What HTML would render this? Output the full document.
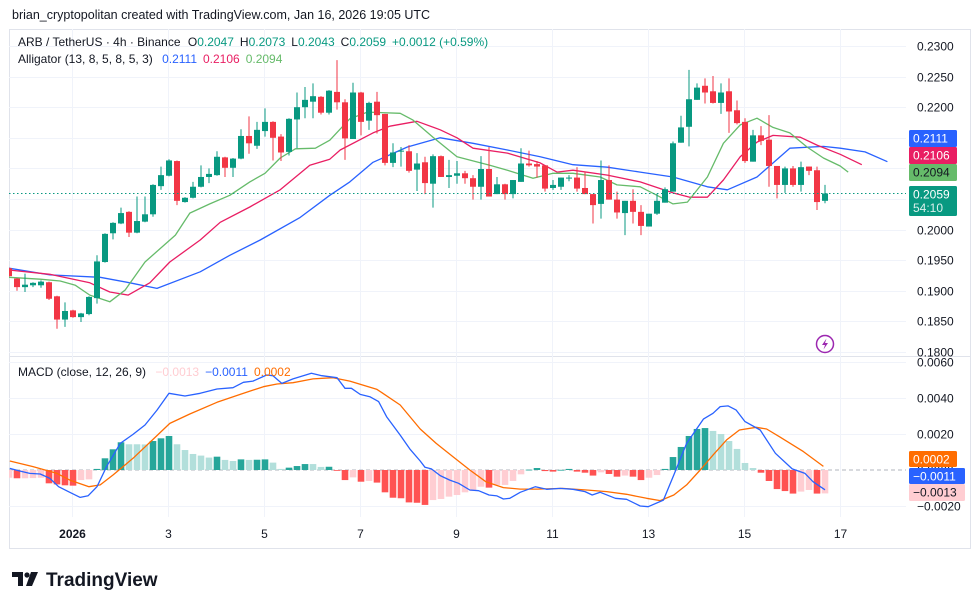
<!DOCTYPE html>
<html><head><meta charset="utf-8"><style>
html,body{margin:0;padding:0;background:#fff;width:980px;height:609px;overflow:hidden}
svg{display:block;font-family:"Liberation Sans",sans-serif}
</style></head><body>
<svg id="chart" width="980" height="609" viewBox="0 0 980 609" xmlns="http://www.w3.org/2000/svg">
<defs>
<clipPath id="pclip"><rect x="9" y="29" width="897" height="327"/></clipPath>
<clipPath id="mclip"><rect x="9" y="357" width="897" height="160"/></clipPath>
</defs>
<text x="12" y="19" font-size="12.5" fill="#131722">brian_cryptopolitan created with TradingView.com, Jan 16, 2026 19:05 UTC</text>
<rect x="9.5" y="29.5" width="961" height="519" fill="none" stroke="#e0e3eb"/>
<line x1="9" y1="356.5" x2="970" y2="356.5" stroke="#e0e3eb"/>
<g id="grid"></g>
<g id="macdpane" clip-path="url(#mclip)"></g>
<g id="pricepane" clip-path="url(#pclip)"></g>
<g id="axes"></g>
<g font-size="12">
<text x="18" y="46" fill="#131722">ARB / TetherUS · 4h · Binance <tspan dx="4">O</tspan><tspan fill="#089981">0.2047</tspan><tspan dx="6">H</tspan><tspan fill="#089981">0.2073</tspan><tspan dx="6">L</tspan><tspan fill="#089981">0.2043</tspan><tspan dx="6">C</tspan><tspan fill="#089981">0.2059</tspan><tspan dx="6" fill="#089981">+0.0012 (+0.59%)</tspan></text>
<text x="18" y="63" fill="#131722">Alligator (13, 8, 5, 8, 5, 3) <tspan dx="6" fill="#2962ff">0.2111</tspan><tspan dx="6" fill="#e91e63">0.2106</tspan><tspan dx="6" fill="#66bb6a">0.2094</tspan></text>
<text x="18" y="376" fill="#131722">MACD (close, 12, 26, 9) <tspan dx="6" fill="#ffcdd2">−0.0013</tspan><tspan dx="6" fill="#2962ff">−0.0011</tspan><tspan dx="6" fill="#ff6d00">0.0002</tspan></text>
</g>
<g>
<circle cx="825" cy="344" r="8.5" fill="#fff" stroke="#9c27b0" stroke-width="1.5"/>
<path d="M826.5 338.5 L822 345 L825 345 L823.5 349.5 L828 343 L825 343 Z" fill="#9c27b0"/>
</g>
<g>
<path d="M12 572 h11 v14 h-5 v-9 h-6 Z" fill="#131722"/>
<circle cx="27" cy="575" r="2.6" fill="#131722"/>
<path d="M31 572 h7 l-6 14 h-6 Z" fill="#131722"/>
<text x="46" y="586" font-size="19" font-weight="bold" fill="#131722">TradingView</text>
</g>
</svg>
<script>
const opens=[1937,1920,1906,1909,1909,1914,1891,1853,1868,1857,1862,1888,1947,1994,2010,2029,1995,2013,2025,2071,2088,2112,2045,2052,2070,2086,2089,2118,2101,2116,2153,2137,2161,2176,2152,2127,2180,2200,2209,2217,2191,2225,2208,2148,2224,2178,2209,2189,2109,2128,2128,2098,2110,2075,2120,2086,2088,2092,2084,2070,2099,2058,2074,2058,2078,2108,2107,2105,2068,2070,2084,2085,2068,2058,2042,2081,2049,2027,2047,2029,2005,2026,2044,2062,2142,2168,2212,2235,2226,2207,2226,2195,2176,2111,2154,2147,2104,2073,2100,2073,2103,2097,2047];
const highs=[1938,1921,1928,1914,1917,1915,1892,1881,1869,1864,1891,1958,1994,2012,2036,2030,2054,2054,2074,2103,2115,2113,2053,2078,2105,2100,2128,2119,2117,2164,2185,2176,2198,2177,2156,2182,2224,2233,2239,2218,2228,2277,2213,2240,2225,2209,2225,2189,2141,2135,2138,2125,2119,2123,2121,2114,2112,2096,2089,2120,2135,2086,2075,2081,2133,2129,2112,2105,2081,2085,2089,2102,2095,2058,2113,2105,2062,2047,2066,2040,2026,2059,2069,2144,2186,2261,2239,2247,2251,2239,2247,2211,2182,2163,2169,2187,2104,2103,2104,2111,2103,2103,2073];
const lows=[1923,1900,1898,1906,1905,1885,1838,1841,1856,1849,1860,1879,1946,1984,2009,1988,1994,2012,2021,2065,2087,2040,2044,2051,2069,2076,2088,2086,2086,2115,2124,2132,2152,2113,2112,2121,2133,2182,2182,2188,2188,2196,2114,2148,2154,2163,2157,2105,2102,2103,2093,2063,2058,2036,2086,2068,2075,2075,2049,2049,2054,2058,2049,2051,2078,2103,2085,2062,2065,2065,2079,2062,2058,2010,2018,2049,2018,1991,2010,1991,2005,2024,2044,2062,2142,2136,2212,2206,2206,2189,2158,2172,2109,2111,2138,2070,2051,2060,2070,2062,2089,2032,2043];
const closes=[1924,1906,1910,1913,1915,1887,1853,1867,1857,1863,1890,1948,1993,2011,2027,1995,2014,2025,2073,2089,2113,2047,2052,2070,2086,2091,2119,2101,2116,2153,2141,2163,2176,2150,2126,2181,2200,2212,2218,2191,2227,2208,2149,2224,2176,2207,2187,2109,2126,2129,2096,2108,2076,2120,2086,2089,2092,2084,2070,2099,2054,2074,2058,2081,2108,2105,2103,2067,2073,2085,2085,2067,2058,2040,2081,2049,2028,2047,2029,2006,2026,2047,2066,2141,2167,2213,2232,2224,2207,2224,2193,2174,2112,2154,2145,2104,2073,2100,2073,2102,2096,2045,2059];
const jawBars=[0,5.1,11.4,15.1,18.5,23.9,27.6,31.4,36.4,40.1,42.6,45.5,49.8,53.9,58,62.3,66.4,70.5,74.8,78.9,83,87.3,89.8,93.5,97.6,101.8,103.9,107,109.8];
const jawVals=[1937,1926,1922,1913,1904,1931,1958,1983,2020,2056,2078,2110,2135,2150,2141,2130,2119,2106,2102,2094,2086,2070,2065,2086,2133,2136,2133,2127,2111];
const teethBars=[0,5.1,10.1,12.6,14.9,17.6,20.1,23.9,26.4,30.1,33.9,37.6,40.1,41.4,45.5,47.6,51,53.9,56,58,62.3,66.4,68.5,70.5,74.8,78.9,83,85.1,87.3,89.3,91.4,93.5,95.5,98.9,101,103.9,106.6];
const teethVals=[1934,1927,1913,1898,1893,1913,1947,1983,2012,2037,2065,2105,2115,2130,2158,2169,2177,2163,2150,2133,2125,2109,2094,2097,2089,2078,2060,2053,2053,2081,2119,2143,2154,2151,2138,2123,2106];
const lipsBars=[0,3.9,6.4,8.3,10.1,12.6,14.5,17,20.8,22.6,25.1,27.6,30.1,32,33.9,35.8,38.3,40.1,42.6,44.8,48.9,50.5,53,56,60.1,62.3,65.5,68,70.5,73.9,76,78.9,81,83,84.8,87.3,89.3,91.4,93.5,95.5,97.6,99.75,101.8,103.9,104.9];
const lipsVals=[1922,1919,1916,1909,1893,1882,1901,1947,1991,2027,2042,2056,2078,2092,2117,2132,2133,2146,2181,2192,2190,2179,2151,2119,2105,2097,2084,2092,2092,2086,2073,2070,2056,2042,2045,2086,2141,2171,2182,2167,2158,2135,2117,2104,2094];
const histVals=[-4.3,-4.6,-4.6,-4.5,-4.3,-7.4,-8.0,-8.5,-8.7,-5.6,-5.2,0.6,6.5,11.5,15.4,14.3,14.3,14.2,16.1,17.6,18.9,14.3,11.1,8.9,8.0,6.9,7.4,5.6,5.0,5.9,5.6,5.7,5.9,4.1,0.6,1.3,2.2,3.3,3.3,1.7,1.8,-0.2,-5.6,-4.1,-6.5,-6.1,-7.0,-12.4,-15.4,-15.7,-18.0,-18.2,-19.4,-16.7,-16.1,-14.8,-13.9,-12.4,-11.7,-9.3,-9.8,-8.3,-8.3,-6.1,-2.4,0.2,1.1,-0.6,-0.9,0.1,0.6,-0.9,-1.5,-3.1,-1.3,-2.2,-3.7,-3.1,-3.7,-5.6,-4.3,-2.8,0.6,7.2,12.8,18.9,22.8,23.3,21.7,20.0,16.1,11.7,3.9,1.1,-1.5,-6.1,-10.6,-11.7,-13.1,-12.0,-11.1,-13.1,-13.0];
const macdBars=[0.1,1.4,2.6,3.9,5.1,6.2,7.6,8.9,9.9,11,12.2,13.9,15.5,17,18.5,20,22,23.9,26,28,29.3,30.5,32.2,33,34.1,35.5,37.8,39.1,41,42,42.8,43.9,45.1,46.2,47.2,48.9,50.1,51.4,52,52.8,53.9,55.1,56.2,57.6,58.7,60,61,61.8,62.6,63.9,65.8,67.2,68.9,70.5,72,72.9,73.9,75.8,77.2,78.9,79.9,81.8,83.1,84.7,86.8,88,88.9,89.9,90.9,92,93.9,95.8,97.9,99.5,100.5,102];
const macdVals=[0.9,-0.6,-1.9,-2.2,-4.6,-9.3,-12.4,-15.2,-14.3,-9.3,1.9,14.8,19.8,25,33.3,42.6,41.1,42.6,45,45.7,48.7,49.4,52.8,52.4,48.1,50.6,53.7,52.4,51.3,45.4,45.4,42,40.7,38,29.6,19.4,11.7,5,1.5,0.6,-3.1,-5.6,-7.4,-11.1,-11.5,-13.9,-14.4,-16.1,-15.7,-12.4,-9.3,-10.7,-10.2,-10.7,-12,-13.9,-12.4,-15.7,-16.3,-20,-20.4,-16.7,-2.8,14.8,28.3,31.5,35.2,35.6,33.3,26.9,22.2,9.3,0.6,-1.9,-6.5,-11];
const signalBars=[0.1,3,6,7.6,10,11.4,13,15.5,18,20.1,22.6,26,28.9,31.8,33.5,35.5,38,40.5,42.6,46,48.9,51.4,53.4,55.5,57.6,59.6,61.8,63.9,66,69.2,72.2,74.7,77.2,79.7,81.4,83.1,84.7,86.4,88,89.7,91.3,93.4,94.7,96.3,99.3,101.8];
const signalVals=[5,1.9,-1.9,-5.6,-9.3,-8.3,-2.8,6.5,17,25.9,31.1,37.6,42,46.3,47.8,48.5,50.6,51.3,49.4,44.8,36.1,22.8,14.8,7.4,0,-6.5,-9.8,-10.6,-10.6,-10.2,-11.1,-12,-13.5,-15.7,-17,-13.9,-8.3,0,8.3,16.7,22.2,23.7,22.8,18.5,10.2,2];
const priceTicks=[2300,2250,2200,2150,2100,2050,2000,1950,1900,1850,1800];
const macdTicks=[60,40,20,0,-20];
const dateBars=[7.875,19.875,31.875,43.875,55.875,67.875,79.875,91.875,103.875];
const dateLabels=["2026","3","5","7","9","11","13","15","17"];
const lastPrice=2059;

const NS="http://www.w3.org/2000/svg";
const X=b=>9+8*b;
const PY=u=>46+(2300-u)*0.612;
const MY=u=>470-u*1.8;
function mk(tag,attrs,parent){const e=document.createElementNS(NS,tag);for(const k in attrs)e.setAttribute(k,attrs[k]);parent.appendChild(e);return e;}
const grid=document.getElementById('grid'),pp=document.getElementById('pricepane'),mp=document.getElementById('macdpane'),ax=document.getElementById('axes');

priceTicks.forEach(t=>{const y=Math.round(PY(t))+0.5;
 const l=mk('line',{x1:9,x2:906,y1:y,y2:y,stroke:'#f0f3fa'},grid);
 
 
 const tx=mk('text',{x:917,y:y+4,'font-size':12,fill:'#131722'},ax);tx.textContent=(t/10000).toFixed(4);
 
 });
macdTicks.forEach(t=>{const y=Math.round(MY(t))+0.5;
 if(t!==0){const l=mk('line',{x1:9,x2:906,y1:y,y2:y,stroke:'#f0f3fa'},grid);
 
 }
 const tx=mk('text',{x:917,y:y+4,'font-size':12,fill:'#131722'},ax);tx.textContent=(t<0?'−':'')+(Math.abs(t)/10000).toFixed(4);
 
 });
dateBars.forEach((b,i)=>{const x=Math.round(X(b))+0.5;
 const l=mk('line',{x1:x,x2:x,y1:29,y2:517,stroke:'#f0f3fa'},grid);
 
 
 const tx=mk('text',{x:x,y:538,'font-size':12,fill:'#131722','text-anchor':'middle','font-weight':i===0?'bold':'normal'},ax);tx.textContent=dateLabels[i];
 
 });

// zero line
const z=mk('line',{x1:9,x2:906,y1:MY(0),y2:MY(0),stroke:'#b2b5be','stroke-dasharray':'4 3'},mp);



// histogram
histVals.forEach((v,i)=>{const p=i?histVals[i-1]:v;let c;
 if(v>=0)c=v>p?'#26a69a':'#b2dfdb';else c=v<p?'#ff5252':'#ffcdd2';
 const y0=MY(0),y1=MY(v);
 const r=mk('rect',{x:X(i)-3.3,y:Math.min(y0,y1),width:6.6,height:Math.max(0.8,Math.abs(y1-y0)),fill:c},mp);
 
 });
function line(bars,vals,yf,color,parent,name){const d=bars.map((b,i)=>(i?'L':'M')+X(b).toFixed(1)+' '+yf(vals[i]).toFixed(1)).join(' ');
 const p=mk('path',{d:d,fill:'none',stroke:color,'stroke-width':1.3,'stroke-linejoin':'round'},parent);
 
 }
line(signalBars,signalVals,MY,'#ff6d00',mp,'signal-line');
line(macdBars,macdVals,MY,'#2962ff',mp,'macd-line');

// alligator
line(jawBars,jawVals,PY,'#2962ff',pp,'alligator-jaw');
line(teethBars,teethVals,PY,'#e91e63',pp,'alligator-teeth');
line(lipsBars,lipsVals,PY,'#66bb6a',pp,'alligator-lips');

// candles
opens.forEach((o,i)=>{const c=closes[i],up=c>=o,col=up?'#089981':'#f23645',x=X(i);
 const g=mk('g',{},pp);
 
 
 mk('line',{x1:x,x2:x,y1:PY(highs[i]),y2:PY(lows[i]),stroke:col,'stroke-width':1},g);
 const t=PY(Math.max(o,c)),b=PY(Math.min(o,c));
 mk('rect',{x:x-3,y:t,width:6,height:Math.max(1,b-t),fill:col},g);});

// last price line
const ly=PY(lastPrice);
const dl=mk('line',{x1:9,x2:906,y1:ly,y2:ly,stroke:'#089981','stroke-dasharray':'1.5 2.5'},pp);



// axis labels
function tag(y,h,w,bg,fg,txt,name,sub){const g=mk('g',{},ax);
 
 
 mk('rect',{x:909,y:y,width:w,height:h,rx:1.5,fill:bg},g);
 const t=mk('text',{x:913,y:y+12.5,'font-size':12,fill:fg},g);t.textContent=txt;
 if(sub){const s=mk('text',{x:913,y:y+26,'font-size':12,fill:fg,opacity:0.85},g);s.textContent=sub;}}
tag(130,17,48,'#2962ff','#fff','0.2111','jaw-price-tag');
tag(147,17,48,'#e91e63','#fff','0.2106','teeth-price-tag');
tag(164,17,48,'#66bb6a','#131722','0.2094','lips-price-tag');
tag(186,30,48,'#089981','#fff','0.2059','last-price-tag','54:10');
tag(451,16,48,'#ff6d00','#fff','0.0002','signal-value-tag');
tag(468,16,56,'#2962ff','#fff','−0.0011','macd-value-tag');
tag(484,17,56,'#ffcdd2','#131722','−0.0013','histogram-value-tag');
</script>
</body></html>
